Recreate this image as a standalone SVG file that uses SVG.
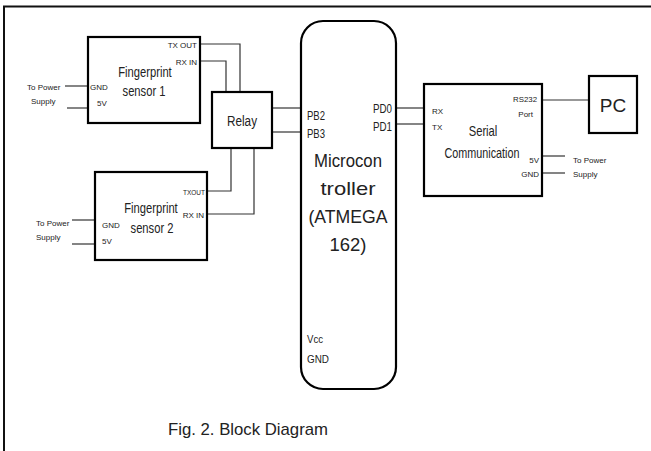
<svg xmlns="http://www.w3.org/2000/svg" width="651" height="451" viewBox="0 0 651 451">
  <style>
    .box { fill: #fff; stroke: #000; stroke-width: 2.2; }
    .wire { fill: none; stroke: #333; stroke-width: 1.2; }
    .frame { fill: none; stroke: #111; stroke-width: 2; }
    text { font-family: "Liberation Sans", Arial, sans-serif; fill: #222; }
    .pin { font-size: 8px; }
    .lbl { font-size: 14px; }
    .big { font-size: 19px; }
    .mid { font-size: 13px; }
    .end { text-anchor: end; }
    .mid-a { text-anchor: middle; }
  </style>

  <!-- page frame -->
  <path class="frame" d="M4 451 V6.5 H651"/>

  <!-- wiring -->
  <g id="connectors">
    <!-- sensor 1 to relay -->
    <path class="wire" d="M200 44 H240 V92"/>
    <path class="wire" d="M200 61 H226 V92"/>
    <!-- sensor 2 to relay -->
    <path class="wire" d="M207 191 H231 V148"/>
    <path class="wire" d="M207 214 H254 V148"/>
    <!-- relay to controller -->
    <path class="wire" d="M272 108 H301"/>
    <path class="wire" d="M272 132 H301"/>
    <!-- controller to serial -->
    <path class="wire" d="M396 108 H424"/>
    <path class="wire" d="M396 124 H424"/>
    <!-- serial to PC -->
    <path class="wire" d="M542 100 H589"/>
    <!-- power leads -->
    <path class="wire" d="M65 86 H88"/>
    <path class="wire" d="M67 108 H88"/>
    <path class="wire" d="M72 220 H95"/>
    <path class="wire" d="M72 244 H95"/>
    <path class="wire" d="M542 156 H565"/>
    <path class="wire" d="M542 173 H565"/>
  </g>

  <!-- power supply notes -->
  <g id="power-notes">
    <text class="pin" x="27" y="90">To Power</text>
    <text class="pin" x="31" y="104">Supply</text>
    <text class="pin" x="36" y="226">To Power</text>
    <text class="pin" x="36" y="240">Supply</text>
    <text class="pin" x="573" y="163">To Power</text>
    <text class="pin" x="573" y="177">Supply</text>
  </g>

  <g id="sensor1">
    <rect class="box" x="88" y="37" width="112" height="86"/>
    <text class="lbl mid-a" transform="translate(145 77) scale(0.8 1)">Fingerprint</text>
    <text class="lbl mid-a" transform="translate(144 96) scale(0.8 1)">sensor 1</text>
    <text class="pin end" x="197" y="48">TX OUT</text>
    <text class="pin end" x="197" y="65">RX IN</text>
    <text class="pin" x="90" y="90">GND</text>
    <text class="pin" x="97" y="106">5V</text>
  </g>

  <g id="sensor2">
    <rect class="box" x="95" y="172" width="112" height="88"/>
    <text class="lbl mid-a" transform="translate(151 213) scale(0.8 1)">Fingerprint</text>
    <text class="lbl mid-a" transform="translate(152 233) scale(0.8 1)">sensor 2</text>
    <text class="pin end" x="205" y="195" textLength="22" lengthAdjust="spacingAndGlyphs">TXOUT</text>
    <text class="pin end" x="204" y="218">RX IN</text>
    <text class="pin" x="102" y="228">GND</text>
    <text class="pin" x="102" y="244">5V</text>
  </g>

  <g id="relay">
    <rect class="box" x="212" y="92" width="60" height="56"/>
    <text class="lbl mid-a" x="242" y="126" font-size="16" textLength="30" lengthAdjust="spacingAndGlyphs">Relay</text>
  </g>

  <g id="controller">
    <rect class="box" x="301" y="21" width="95" height="368" rx="22" ry="22"/>
    <text class="mid" x="307" y="120" textLength="18" lengthAdjust="spacingAndGlyphs">PB2</text>
    <text class="mid" x="307" y="138" textLength="18" lengthAdjust="spacingAndGlyphs">PB3</text>
    <text class="mid end" x="392" y="113" textLength="19" lengthAdjust="spacingAndGlyphs">PD0</text>
    <text class="mid end" x="392" y="131" textLength="19" lengthAdjust="spacingAndGlyphs">PD1</text>
    <text class="big mid-a" x="348" y="167" textLength="68" lengthAdjust="spacingAndGlyphs">Microcon</text>
    <text class="big mid-a" x="348" y="195" textLength="55" lengthAdjust="spacingAndGlyphs">troller</text>
    <text class="big mid-a" x="348" y="223" textLength="79" lengthAdjust="spacingAndGlyphs">(ATMEGA</text>
    <text class="big mid-a" x="348" y="251" textLength="37" lengthAdjust="spacingAndGlyphs">162)</text>
    <text x="307" y="343" font-size="11" textLength="16" lengthAdjust="spacingAndGlyphs">Vcc</text>
    <text x="307" y="363" font-size="11" textLength="22" lengthAdjust="spacingAndGlyphs">GND</text>
  </g>

  <g id="serial">
    <rect class="box" x="424" y="84" width="118" height="112"/>
    <text class="pin" x="432" y="114">RX</text>
    <text class="pin" x="432" y="130">TX</text>
    <text class="pin end" x="537" y="102" font-size="10" textLength="24" lengthAdjust="spacingAndGlyphs">RS232</text>
    <text class="pin end" x="533" y="117" font-size="10">Port</text>
    <text class="lbl mid-a" transform="translate(483 136) scale(0.8 1)" font-size="15">Serial</text>
    <text class="lbl mid-a" transform="translate(482 158) scale(0.77 1)" font-size="15">Communication</text>
    <text class="pin end" x="539" y="163">5V</text>
    <text class="pin end" x="539" y="177">GND</text>
  </g>

  <g id="pc">
    <rect class="box" x="589" y="76" width="48" height="57"/>
    <text class="mid-a" x="613" y="112" font-size="19">PC</text>
  </g>

  <text x="168" y="435" font-size="17" textLength="160" lengthAdjust="spacingAndGlyphs">Fig. 2. Block Diagram</text>
</svg>
